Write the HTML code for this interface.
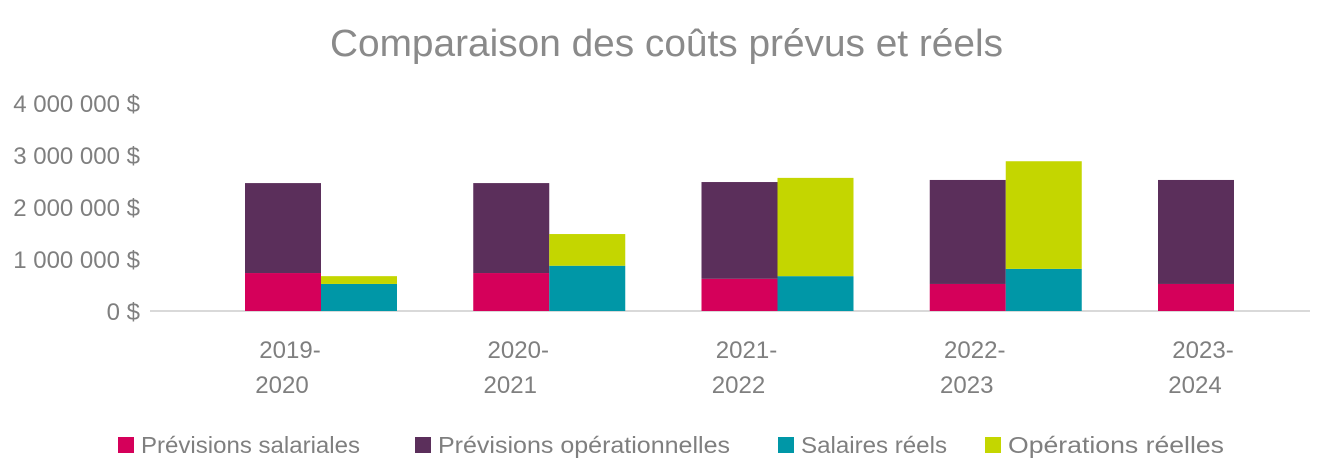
<!DOCTYPE html>
<html><head><meta charset="utf-8"><style>
body{margin:0;background:#fff;width:1325px;height:470px;overflow:hidden;font-family:"Liberation Sans",sans-serif}
svg text{font-family:"Liberation Sans",sans-serif;fill:#7f7f7f}
</style></head><body>
<svg id="chart" width="1325" height="470" xmlns="http://www.w3.org/2000/svg">
<text x="330" y="56" font-size="38" textLength="673" lengthAdjust="spacingAndGlyphs" style="fill:#8a8a8a">Comparaison des coûts prévus et réels</text>
<g id="yaxis"></g><g id="bars"></g><g id="xaxis"></g><g id="legend"></g>
</svg>
<script>
const categories=[["2019-","2020"],["2020-","2021"],["2021-","2022"],["2022-","2023"],["2023-","2024"]];
const forecastSalary=[0.73,0.73,0.62,0.52,0.52];
const forecastOps=[1.73,1.73,1.86,2.0,2.0];
const actualSalary=[0.52,0.87,0.67,0.81,null];
const actualOps=[0.15,0.61,1.89,2.07,null];
const yTicks=[0,1,2,3,4];
const yTickLabels=["0 $","1 000 000 $","2 000 000 $","3 000 000 $","4 000 000 $"];
const seriesNames=["Prévisions salariales","Prévisions opérationnelles","Salaires réels","Opérations réelles"];
const colors=["#d5005a","#5b2f5b","#0097a7","#c4d600"];
const NS="http://www.w3.org/2000/svg";
const y0=311,pxPerM=52,firstCenter=321,step=228.25,barW=76;
const yScale=v=>y0-v*pxPerM;
const xCenter=i=>firstCenter+i*step;
function mk(tag,attrs,parent){const e=document.createElementNS(NS,tag);for(const k in attrs)e.setAttribute(k,attrs[k]);parent.appendChild(e);return e;}
const ya=document.getElementById('yaxis');
yTicks.forEach((t,i)=>{const tx=mk('text',{x:140,y:yScale(t)+9,'text-anchor':'end','font-size':24},ya);


tx.textContent=yTickLabels[i];});
const bl=mk('line',{x1:150,x2:1310,y1:y0,y2:y0,stroke:'#d9d9d9','stroke-width':2},ya);


const bg=document.getElementById('bars');
function bar(x,v0,v1,c,name){if(v1==null)return;const r=mk('rect',{x:x,y:yScale(v0+v1),width:barW,height:v1*pxPerM,fill:c},bg);

}
categories.forEach((c,i)=>{const cx=xCenter(i);
bar(cx-barW,0,forecastSalary[i],colors[0],'bar-forecast-salary');
bar(cx-barW,forecastSalary[i],forecastOps[i],colors[1],'bar-forecast-ops');
if(actualSalary[i]!=null){bar(cx,0,actualSalary[i],colors[2],'bar-actual-salary');
bar(cx,actualSalary[i],actualOps[i],colors[3],'bar-actual-ops');}
const xa=document.getElementById('xaxis');
c.forEach((l,j)=>{const t=mk('text',{x:cx-38+(j==0?7:-1),y:358+j*35,'text-anchor':'middle','font-size':24},xa);


t.textContent=l;});
});
const lg=document.getElementById('legend');
const lx=[118,415,778,985];
const lw=[219,292,146,216];
seriesNames.forEach((n,i)=>{const g=mk('g',{},lg);


mk('rect',{x:lx[i],y:437,width:16,height:16,fill:colors[i]},g);
const t=mk('text',{x:lx[i]+23,y:453,'font-size':23,textLength:lw[i],lengthAdjust:'spacingAndGlyphs'},g);t.textContent=n;});
</script>
</body></html>
